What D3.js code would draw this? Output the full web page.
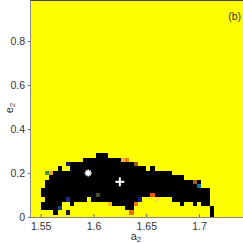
<!DOCTYPE html>
<html>
<head>
<meta charset="utf-8">
<script src="https://cdn.jsdelivr.net/npm/d3@7"></script>
<style>
  body { margin: 0; background: #fff; }
  svg { display: block; }
  text { font-family: "Liberation Sans", Arial, sans-serif; fill: #333; }
</style>
</head>
<body>
<div id="chart"></div>
<script>
// stable region, one column per a2 grid value (cells 0.004 x 0.02)
const colA = [1.552, 1.556, 1.560, 1.564, 1.568, 1.572, 1.576, 1.580, 1.584, 1.588,
              1.592, 1.596, 1.600, 1.604, 1.608, 1.612, 1.616, 1.620, 1.624, 1.628,
              1.632, 1.636, 1.640, 1.644, 1.648, 1.652, 1.656, 1.660, 1.664, 1.668,
              1.672, 1.676, 1.680, 1.684, 1.688, 1.692, 1.696, 1.700, 1.704, 1.708, 1.712];
const eLow  = [0.04, 0.04, 0.04, 0.02, 0.06, 0.08, 0.10, 0.06, 0.08, 0.08,
               0.08, 0.10, 0.08, 0.08, 0.08, 0.08, 0.08, 0.06, 0.06, 0.06,
               0.04, 0.04, 0.08, 0.10, 0.10, 0.10, 0.12, 0.10, 0.10, 0.10,
               0.10, 0.08, 0.08, 0.06, 0.08, 0.08, 0.06, 0.08, 0.06, 0.06, 0.00];
const eHigh = [0.12, 0.16, 0.18, 0.20, 0.22, 0.20, 0.20, 0.24, 0.24, 0.24,
               0.26, 0.26, 0.26, 0.28, 0.28, 0.28, 0.26, 0.26, 0.26, 0.24,
               0.24, 0.24, 0.22, 0.22, 0.22, 0.20, 0.22, 0.20, 0.20, 0.20,
               0.20, 0.18, 0.18, 0.18, 0.16, 0.16, 0.14, 0.16, 0.12, 0.12, 0.04];

// unstable cells inside the stable columns
const holes = [[1.552, 0.08]];

// other coloured cells [a2, e2, colour]
const cells = [
  [1.556, 0.20, "#3f9a3f"], [1.560, 0.20, "#f0a020"], [1.576, 0.24, "#16206e"],
  [1.576, 0.08, "#1a2d8a"], [1.576, 0.02, "#101850"], [1.568, 0.04, "#1a3a8a"],
  [1.604, 0.10, "#4d4d26"], [1.616, 0.06, "#f5c020"], [1.628, 0.26, "#f7b030"],
  [1.632, 0.26, "#f08018"], [1.636, 0.02, "#f06a10"], [1.640, 0.24, "#9a5a28"],
  [1.640, 0.06, "#f07a18"], [1.644, 0.08, "#12207a"], [1.656, 0.10, "#f05a10"],
  [1.660, 0.08, "#f8e040"], [1.696, 0.16, "#9a6030"], [1.700, 0.14, "#107888"]
];

const starPt = [1.595, 0.20];
const crossPt = [1.625, 0.16];

const xTicks = [1.55, 1.6, 1.65, 1.7];
const yTicks = [0, 0.2, 0.4, 0.6, 0.8];

const W = 243, H = 243;
const left = 30, bottom = 217;
const da = 0.004, de = 0.02;

const svg = d3.select("#chart").append("svg")
  .attr("width", W).attr("height", H);

const x = d3.scaleLinear().domain([1.54, 1.74]).range([30.1, 241.3]);
const y = d3.scaleLinear().domain([0, 1]).range([bottom, -3]);

svg.append("clipPath").attr("id", "plot")
  .append("rect").attr("x", left).attr("y", 0)
  .attr("width", W - left).attr("height", bottom);

const g = svg.append("g").attr("clip-path", "url(#plot)")
  .attr("shape-rendering", "crispEdges");

g.append("rect").attr("x", left).attr("y", 0)
  .attr("width", W - left).attr("height", bottom)
  .attr("fill", "#ffff00");

g.selectAll("rect.col")
  .data(colA)
  .enter().append("rect")
  .attr("class", "col")
  .attr("x", d => x(d - da / 2))
  .attr("width", d => x(d + da / 2) - x(d - da / 2))
  .attr("y", (d, i) => y(eHigh[i] + de / 2))
  .attr("height", (d, i) => y(eLow[i] - de / 2) - y(eHigh[i] + de / 2))
  .attr("fill", "#000");

g.selectAll("rect.hole")
  .data(holes)
  .enter().append("rect")
  .attr("class", "hole")
  .attr("x", d => x(d[0] - da / 2))
  .attr("width", x(1.544) - x(1.54))
  .attr("y", d => y(d[1] + de / 2))
  .attr("height", y(0) - y(de))
  .attr("fill", "#ffff00");

g.selectAll("rect.cell")
  .data(cells)
  .enter().append("rect")
  .attr("class", "cell")
  .attr("x", d => x(d[0] - da / 2))
  .attr("width", x(1.544) - x(1.54))
  .attr("y", d => y(d[1] + de / 2))
  .attr("height", y(0) - y(de))
  .attr("fill", d => d[2]);

// markers
const sx = x(starPt[0]), sy = y(starPt[1]);
const star = svg.append("g").attr("transform", `translate(${sx},${sy})`)
  .attr("stroke", "#fff").attr("stroke-width", 1.6);
[0, 45, 90, 135].forEach(r => {
  star.append("line").attr("x1", -3.5).attr("x2", 3.5).attr("y1", 0).attr("y2", 0)
    .attr("transform", `rotate(${r})`);
});
star.append("circle").attr("r", 2).attr("fill", "#fff").attr("stroke", "none");

const cx = x(crossPt[0]), cy = y(crossPt[1]);
const cross = svg.append("g").attr("transform", `translate(${cx},${cy})`)
  .attr("stroke", "#fff").attr("stroke-width", 2);
cross.append("line").attr("x1", -4.5).attr("x2", 4.5);
cross.append("line").attr("y1", -4.5).attr("y2", 4.5);

// axes
svg.append("line").attr("x1", left).attr("x2", W).attr("y1", 0.5).attr("y2", 0.5)
  .attr("stroke", "#444");

const xAxis = svg.append("g").attr("transform", `translate(0,${bottom})`)
  .call(d3.axisBottom(x).tickValues(xTicks).tickFormat(d3.format("")).tickSize(-3).tickPadding(6));
const yAxis = svg.append("g").attr("transform", `translate(${left},0)`)
  .call(d3.axisLeft(y).tickValues(yTicks).tickFormat(d3.format("")).tickSize(2).tickPadding(3));

[xAxis, yAxis].forEach(a => {
  a.select(".domain").attr("stroke", "#888");
  a.selectAll(".tick line").attr("stroke", "#666");
  a.selectAll("text").attr("font-size", 10.5).attr("fill", "#333")
    .attr("font-family", "Liberation Sans, Arial, sans-serif");
});
xAxis.select(".domain").attr("d", `M${left},0.5H${W}`);
yAxis.select(".domain").attr("d", `M0.5,0V${bottom}`);

const xl = svg.append("text").attr("x", 136).attr("y", 240)
  .attr("text-anchor", "middle").attr("font-size", 11);
xl.append("tspan").text("a");
xl.append("tspan").attr("font-size", 8).attr("dy", 2).text("2");

const yl = svg.append("text")
  .attr("transform", "translate(13,108) rotate(-90)")
  .attr("text-anchor", "middle").attr("font-size", 11);
yl.append("tspan").text("e");
yl.append("tspan").attr("font-size", 8).attr("dy", 2).text("2");

svg.append("text").attr("x", 241).attr("y", 20)
  .attr("text-anchor", "end").attr("font-size", 10.5).text("(b)");
</script>
</body>
</html>
